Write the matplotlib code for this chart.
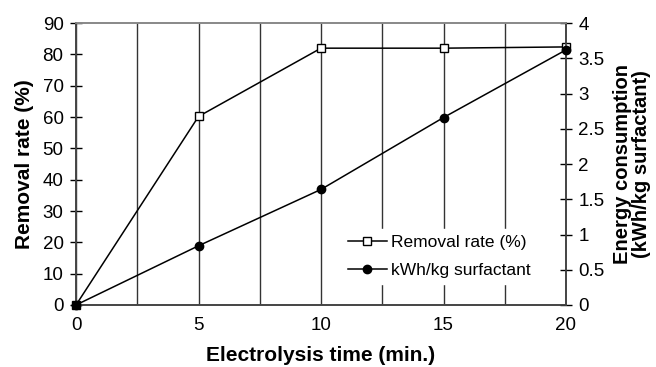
import matplotlib
matplotlib.use("Agg")
import matplotlib.pyplot as plt
from matplotlib.ticker import MultipleLocator

plt.rcParams['font.family'] = ['Liberation Sans', 'DejaVu Sans']

# data
time_min = [0, 5, 10, 15, 20]
removal_rate = [0, 60.2, 82, 82, 82.4]
energy_kwh = [0, 0.84, 1.64, 2.66, 3.62]

fig = plt.figure(figsize=(6.56, 3.67), dpi=100)
ax = fig.add_axes([0.1159, 0.169, 0.7469, 0.768])
ax2 = ax.twinx()

# vertical grid lines every 2.5 min
ax.set_xlim(0, 20)
ax.xaxis.set_major_locator(MultipleLocator(5))
ax.xaxis.set_minor_locator(MultipleLocator(2.5))
ax.grid(True, which='both', axis='x', color='#333333', lw=1.0)
ax.set_axisbelow(True)

l1, = ax.plot(time_min, removal_rate, color='black', lw=1.1, marker='s',
              ms=5.5, mfc='white', mec='black', mew=1.0, zorder=3, clip_on=False)
l2, = ax2.plot(time_min, energy_kwh, color='black', lw=1.1, marker='o',
               ms=6, mfc='black', mec='black', zorder=3, clip_on=False)

ax.set_ylim(0, 90)
ax.yaxis.set_major_locator(MultipleLocator(10))
ax2.set_ylim(0, 4)
ax2.set_yticks([0, 0.5, 1, 1.5, 2, 2.5, 3, 3.5, 4])
ax2.set_yticklabels(['0', '0.5', '1', '1.5', '2', '2.5', '3', '3.5', '4'])

ax.tick_params(axis='x', which='both', length=0, labelsize=13.5, pad=9)
ax.tick_params(axis='y', direction='inout', length=8, width=1, labelsize=13.5, pad=5)
ax2.tick_params(axis='y', direction='inout', length=8, width=1, labelsize=13.5, pad=5)

for a in (ax, ax2):
    for s in a.spines.values():
        s.set_color('#444444')
        s.set_linewidth(1.2)
    a.spines['top'].set_color('#888888')

ax.set_xlabel('Electrolysis time (min.)', fontsize=15, fontweight='bold', labelpad=8)
ax.set_ylabel('Removal rate (%)', fontsize=15, fontweight='bold', labelpad=6)
ax2.set_ylabel('Energy consumption\n(kWh/kg surfactant)', fontsize=14.5,
               fontweight='bold', labelpad=6, linespacing=1.0)

leg = ax2.legend([l1, l2], ['Removal rate (%)', 'kWh/kg surfactant'],
                 loc='center left', bbox_to_anchor=(0.524, 0.172), fontsize=12.5,
                 frameon=True, framealpha=1, edgecolor='white', fancybox=False,
                 handlelength=2.3, handletextpad=0.2, borderpad=0.35,
                 labelspacing=0.7)
leg.set_zorder(5)

fig.savefig('out.png', dpi=100)
